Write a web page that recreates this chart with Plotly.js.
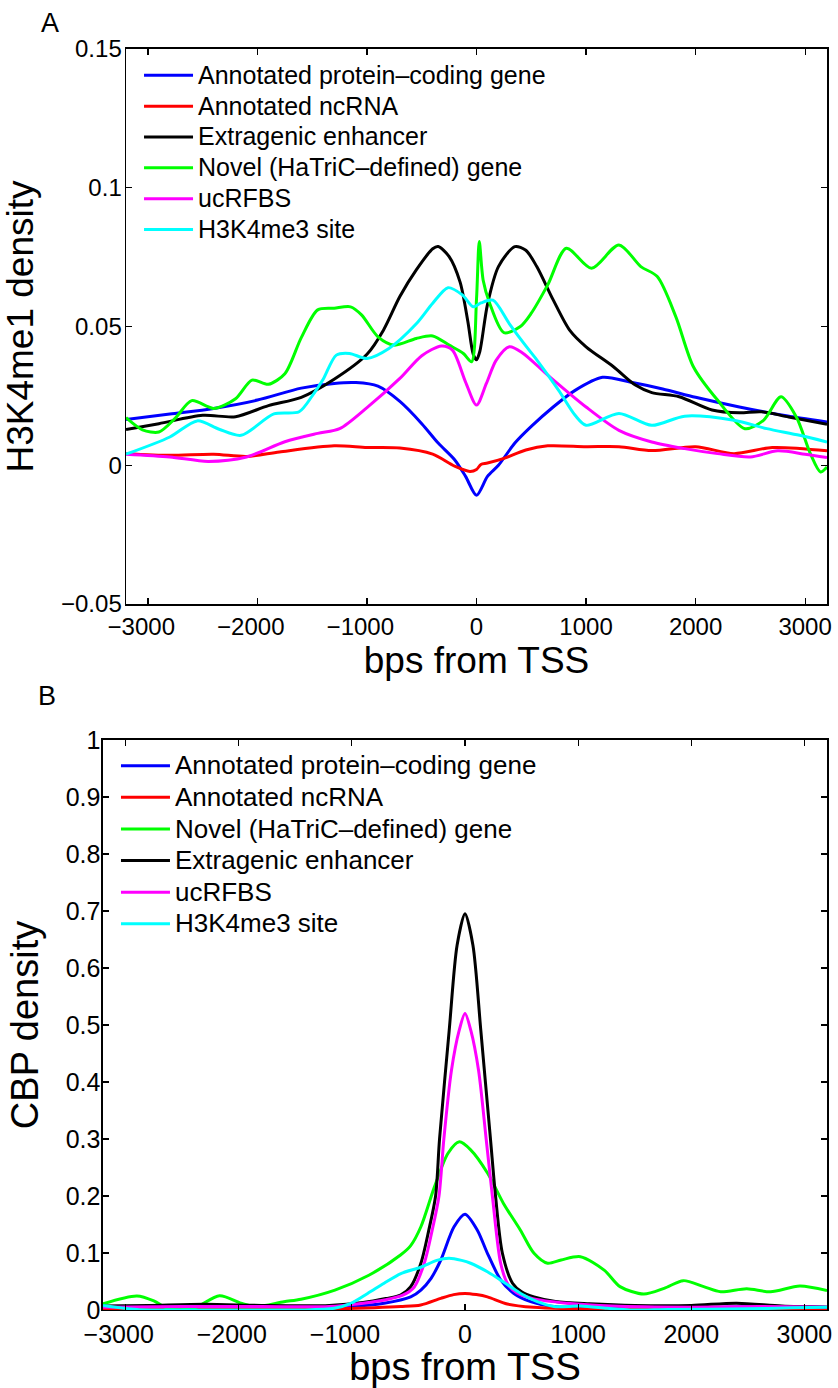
<!DOCTYPE html>
<html><head><meta charset="utf-8">
<script src="https://cdn.plot.ly/plotly-3.0.1.min.js"></script>
<style>html,body{margin:0;padding:0;background:#fff}#chart{width:838px;height:1388px}</style>
</head><body><div id="chart"></div>
<script>
// ---------- Panel A : H3K4me1 density ----------
const namesA = ['Annotated protein\u2013coding gene','Annotated ncRNA','Extragenic enhancer','Novel (HaTriC\u2013defined) gene','ucRFBS','H3K4me3 site'];
const colorsA = ['#0000ff','#ff0000','#000000','#00ff00','#ff00ff','#00ffff'];

const aProteinX = [-3200,-2800,-2400,-2000,-1600,-1300,-1100,-900,-700,-500,-350,-200,-100,0,100,200,350,500,700,900,1150,1400,1700,2000,2400,2800,3200];
const aProteinY = [0.0165,0.0185,0.0205,0.0235,0.0278,0.0295,0.0298,0.0285,0.023,0.015,0.008,0.002,-0.004,-0.0108,-0.004,0.000,0.008,0.014,0.021,0.027,0.0317,0.030,0.0275,0.0245,0.021,0.018,0.0156];

const aNcrnaX = [-3200,-2800,-2400,-2100,-1800,-1300,-1000,-700,-400,-200,-60,0,40,100,250,450,650,1000,1300,1600,2000,2350,2700,3200];
const aNcrnaY = [0.0042,0.0036,0.004,0.0032,0.0048,0.007,0.0064,0.0062,0.004,-0.0003,-0.0022,-0.0015,0.0003,0.0008,0.0025,0.0055,0.007,0.0067,0.0067,0.0053,0.0067,0.0042,0.0064,0.0052];

const aEnhancerX = [-3200,-2900,-2500,-2200,-1900,-1600,-1300,-1000,-850,-700,-550,-400,-350,-250,-150,-80,-30,0,30,100,200,350,450,550,700,850,1000,1250,1450,1600,1850,2150,2400,2600,2850,3200];
const aEnhancerY = [0.0129,0.015,0.018,0.0175,0.0215,0.0245,0.031,0.040,0.0487,0.0608,0.0704,0.078,0.0788,0.0752,0.066,0.052,0.040,0.038,0.041,0.058,0.0716,0.0788,0.0775,0.0716,0.0596,0.0487,0.0427,0.0355,0.0289,0.0262,0.0247,0.0199,0.0189,0.0193,0.0174,0.0148];

const aNovelX = [-3200,-3050,-2900,-2750,-2600,-2400,-2200,-2050,-1900,-1750,-1600,-1450,-1300,-1150,-1050,-900,-750,-550,-400,-250,-120,-45,0,25,60,120,250,400,500,650,820,1050,1300,1500,1650,1820,1980,2200,2450,2620,2780,2920,3050,3140,3200];
const aNovelY = [0.0172,0.0128,0.012,0.017,0.0233,0.0205,0.024,0.0307,0.0292,0.033,0.046,0.056,0.0566,0.0571,0.0542,0.0463,0.0433,0.0457,0.0466,0.0433,0.0403,0.0373,0.06,0.0806,0.0668,0.0584,0.0478,0.050,0.0548,0.065,0.0782,0.071,0.0794,0.0716,0.068,0.0535,0.0355,0.0235,0.0132,0.0162,0.0247,0.0174,0.004,-0.0024,-0.0006];

const aUcrfbsX = [-3200,-2800,-2450,-2100,-1750,-1450,-1250,-1000,-700,-500,-320,-220,-100,0,90,180,300,420,650,1000,1300,1600,1900,2200,2500,2750,3000,3200];
const aUcrfbsY = [0.004,0.003,0.0014,0.003,0.0085,0.0115,0.0132,0.0208,0.0313,0.0395,0.043,0.0415,0.030,0.0217,0.0295,0.0379,0.0427,0.0405,0.0325,0.021,0.0126,0.0084,0.006,0.0042,0.003,0.0052,0.004,0.0028];

const aH3k4me3X = [-3200,-2800,-2550,-2350,-2150,-1850,-1620,-1500,-1400,-1280,-1160,-1000,-800,-550,-400,-260,-130,-30,40,150,300,450,550,750,900,1000,1300,1600,1900,2350,2650,2950,3200];
const aH3k4me3Y = [0.004,0.0102,0.016,0.013,0.0108,0.0185,0.0193,0.025,0.031,0.0397,0.0403,0.0385,0.0421,0.051,0.0584,0.064,0.0614,0.0571,0.0585,0.0595,0.051,0.043,0.038,0.027,0.018,0.0144,0.0187,0.0144,0.0177,0.0162,0.0132,0.0108,0.0084];

// ---------- Panel B : CBP density ----------
const namesB = ['Annotated protein\u2013coding gene','Annotated ncRNA','Novel (HaTriC\u2013defined) gene','Extragenic enhancer','ucRFBS','H3K4me3 site'];
const colorsB = ['#0000ff','#ff0000','#00ff00','#000000','#ff00ff','#00ffff'];

const bProteinX = [-3200,-2400,-1600,-1000,-715,-480,-390,-300,-214,-97,0,109,198,315,432,580,786,1200,2000,2600,3200];
const bProteinY = [0.004,0.005,0.004,0.006,0.0117,0.023,0.035,0.0556,0.0877,0.146,0.168,0.140,0.0995,0.053,0.029,0.0146,0.006,0.004,0.004,0.006,0.005];

const bNcrnaX = [-3200,-2000,-1200,-800,-567,-391,-214,-100,0,100,198,374,609,1000,2000,3200];
const bNcrnaY = [0.001,0.001,0.002,0.004,0.006,0.0088,0.0205,0.027,0.029,0.027,0.023,0.0105,0.0047,0.002,0.002,0.002];

const bNovelX = [-3200,-2900,-2750,-2620,-2400,-2170,-1980,-1850,-1600,-1450,-1150,-850,-570,-480,-390,-270,-150,-50,50,200,340,490,610,730,850,1020,1230,1370,1580,1760,1930,2110,2260,2490,2700,2960,3200];
const bNovelY = [0.011,0.0246,0.016,0.002,0.003,0.025,0.012,0.006,0.0146,0.019,0.035,0.061,0.0965,0.113,0.146,0.216,0.275,0.295,0.281,0.240,0.187,0.140,0.0995,0.082,0.0877,0.0935,0.070,0.041,0.028,0.038,0.0515,0.041,0.032,0.0374,0.032,0.042,0.034];

const bEnhancerX = [-3200,-2800,-2300,-1800,-1200,-900,-700,-570,-480,-390,-320,-260,-225,-140,-70,0,70,140,225,270,330,420,500,610,800,1100,1500,2000,2400,2800,3200];
const bEnhancerY = [0.007,0.008,0.010,0.008,0.008,0.013,0.020,0.026,0.041,0.082,0.140,0.200,0.300,0.490,0.640,0.695,0.640,0.490,0.300,0.200,0.100,0.047,0.032,0.023,0.015,0.011,0.008,0.008,0.012,0.007,0.005];

const bUcrfbsX = [-3200,-2500,-1800,-1200,-900,-700,-550,-450,-360,-290,-230,-187,-120,-52,0,52,120,187,242,315,380,460,600,900,1300,2000,2600,3200];
const bUcrfbsY = [0.005,0.006,0.006,0.006,0.012,0.018,0.026,0.040,0.082,0.140,0.200,0.300,0.420,0.490,0.520,0.490,0.420,0.300,0.200,0.082,0.045,0.030,0.020,0.012,0.007,0.005,0.006,0.005];

const bH3k4me3X = [-3200,-2900,-2400,-1800,-1450,-1156,-1009,-861,-715,-567,-391,-250,-141,-30,50,198,344,492,639,786,1021,1256,1462,1800,2500,2900,3200];
const bH3k4me3Y = [0.008,0.001,0.000,0.000,0.000,0.003,0.0117,0.029,0.047,0.064,0.075,0.087,0.0907,0.087,0.082,0.067,0.0486,0.029,0.0146,0.006,0.007,0.003,0.000,0.001,0.002,0.004,0.005];

// x tick values and their labels (shared by both panels)
const tickValsX = [-3000,-2000,-1000,0,1000,2000,3000];
const tickTextX = ['\u22123000','\u22122000','\u22121000','0','1000','2000','3000'];

const FONT = '"Liberation Sans", Arial, Helvetica, sans-serif';

// negative labels: pad right so the digits (not the minus) sit centred on the tick, as in the original
const tickTextXPadded = tickTextX.map(t => t.charAt(0) === '\u2212' ? t + '\u00a0\u00a0' : t);

const seriesA = [[aProteinX,aProteinY],[aNcrnaX,aNcrnaY],[aEnhancerX,aEnhancerY],[aNovelX,aNovelY],[aUcrfbsX,aUcrfbsY],[aH3k4me3X,aH3k4me3Y]];
const seriesB = [[bProteinX,bProteinY],[bNcrnaX,bNcrnaY],[bNovelX,bNovelY],[bEnhancerX,bEnhancerY],[bUcrfbsX,bUcrfbsY],[bH3k4me3X,bH3k4me3Y]];

const traces = [];
seriesA.forEach((s,i)=>traces.push({
  x:s[0], y:s[1], type:'scatter', mode:'lines', xaxis:'x', yaxis:'y', legend:'legend',
  name:'<span style="font-size:25px">'+namesA[i]+'</span>',
  line:{color:colorsA[i], width:3, shape:'spline', smoothing:0.8}, hoverinfo:'skip'
}));
seriesB.forEach((s,i)=>traces.push({
  x:s[0], y:s[1], type:'scatter', mode:'lines', xaxis:'x2', yaxis:'y2', legend:'legend2',
  name:'<span style="font-size:26px">'+namesB[i]+'</span>',
  line:{color:colorsB[i], width:3, shape:'spline', smoothing:0.8}, hoverinfo:'skip'
}));

function axBase(extra){
  return Object.assign({
    showline:true, linecolor:'#000', linewidth:1.5, mirror:'ticks',
    ticks:'inside', ticklen:6, tickwidth:1.2, tickcolor:'#000',
    showgrid:false, zeroline:false, automargin:false,
    tickfont:{family:FONT, size:24, color:'#000'}
  }, extra);
}

const layout = {
  width:838, height:1388,
  margin:{l:0,r:0,t:0,b:0},
  paper_bgcolor:'#fff', plot_bgcolor:'#fff',
  font:{family:FONT, color:'#000'},
  showlegend:true,
  xaxis: axBase({domain:[0.1504,0.9869], anchor:'y', range:[-3200,3200], tickmode:'array', tickvals:tickValsX, ticktext:tickTextXPadded, ticklabelstandoff:1,
    title:{text:'bps from TSS', font:{family:FONT,size:37}, standoff:4}}),
  yaxis: axBase({domain:[0.5648,0.9647], anchor:'x', range:[-0.05,0.15], tick0:0, dtick:0.05, ticklabelstandoff:-2,
    title:{text:'H3K4me1 density', font:{family:FONT,size:37}, standoff:17}}),
  xaxis2: axBase({domain:[0.1229,0.9869], anchor:'y2', range:[-3200,3200], tickmode:'array', tickvals:tickValsX, ticktext:tickTextXPadded, ticklabelstandoff:2,
    tickfont:{family:FONT,size:25,color:'#000'},
    title:{text:'bps from TSS', font:{family:FONT,size:38}, standoff:9}}),
  yaxis2: axBase({domain:[0.0562,0.4669], anchor:'x2', range:[0,1], tick0:0, dtick:0.1, ticklabelstandoff:-4,
    tickfont:{family:FONT,size:25,color:'#000'},
    title:{text:'CBP density', font:{family:FONT,size:38}, standoff:15}}),
  legend:{x:0.1659, y:0.9604, xanchor:'left', yanchor:'top', bgcolor:'rgba(0,0,0,0)', borderwidth:0,
    font:{family:FONT,size:21.4,color:'#000'}, itemwidth:49, tracegroupgap:0},
  legend2:{x:0.1384, y:0.4633, xanchor:'left', yanchor:'top', bgcolor:'rgba(0,0,0,0)', borderwidth:0,
    font:{family:FONT,size:22,color:'#000'}, itemwidth:49, tracegroupgap:0},
  annotations:[
    {text:'A', xref:'paper', yref:'paper', x:0.0597, y:0.9834, xanchor:'center', yanchor:'middle', showarrow:false, font:{family:FONT,size:27,color:'#000'}},
    {text:'B', xref:'paper', yref:'paper', x:0.0561, y:0.4986, xanchor:'center', yanchor:'middle', showarrow:false, font:{family:FONT,size:27,color:'#000'}}
  ]
};

Plotly.newPlot('chart', traces, layout, {staticPlot:true, displayModeBar:false});
</script>
</body></html>
